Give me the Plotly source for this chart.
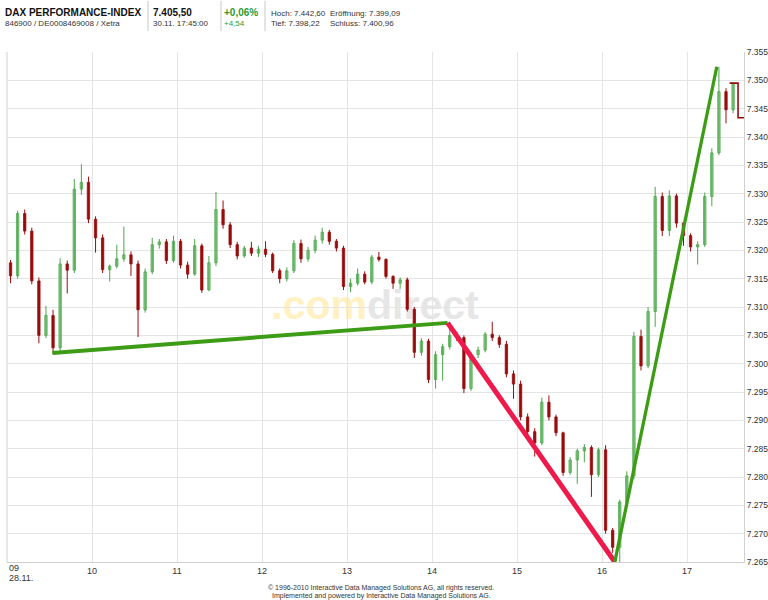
import plotly.graph_objects as go
import pandas as pd

DAY = "2010-11-30"

# 5-minute OHLC bars (index points)
opens = [7317.8, 7315.5, 7326.5, 7323.4, 7314.6, 7305.0, 7308.5, 7302.8, 7317.6, 7316.5,
         7330.8, 7332.0, 7325.5, 7322.2, 7316.6, 7317.2, 7318.5, 7319.2, 7317.6, 7309.5,
         7316.2, 7321.0, 7321.5, 7318.2, 7321.6, 7317.4, 7315.8, 7320.8, 7313.0, 7317.8,
         7327.2, 7324.5, 7321.0, 7319.0, 7320.4, 7319.5, 7320.2, 7319.3, 7316.4, 7315.0,
         7316.4, 7321.2, 7318.5, 7320.0, 7321.8, 7323.2, 7321.6, 7320.4, 7313.6, 7314.2,
         7315.8, 7314.4, 7318.8, 7318.4, 7315.4, 7314.2, 7314.8, 7309.6, 7302.0, 7304.0,
         7297.2, 7301.6, 7303.0, 7305.0, 7304.6, 7295.6, 7301.6, 7302.4, 7305.2, 7304.6,
         7303.4, 7298.2, 7296.4, 7290.6, 7288.0, 7286.0, 7293.2, 7290.6, 7287.8, 7280.8,
         7283.0, 7284.6, 7285.2, 7280.4, 7284.8, 7270.6, 7267.6, 7275.6, 7280.2, 7304.8,
         7299.6, 7309.2, 7329.5, 7323.5, 7329.6, 7324.8, 7322.6, 7320.6, 7321.0, 7329.5,
         7337.2, 7348.0, 7344.8]
highs = [7318.3, 7327.0, 7327.2, 7324.0, 7315.2, 7310.2, 7309.5, 7318.6, 7318.2, 7332.6,
         7335.2, 7333.0, 7326.0, 7322.8, 7317.5, 7321.0, 7324.2, 7319.8, 7318.2, 7316.8,
         7322.2, 7322.0, 7322.0, 7322.6, 7322.0, 7318.0, 7322.0, 7321.2, 7319.0, 7330.3,
         7328.8, 7325.0, 7321.5, 7320.8, 7321.5, 7320.8, 7321.6, 7319.6, 7316.8, 7317.0,
         7321.8, 7321.9, 7320.6, 7322.6, 7324.0, 7323.6, 7322.0, 7320.8, 7315.0, 7316.8,
         7316.3, 7319.2, 7319.7, 7318.6, 7315.6, 7315.2, 7315.2, 7310.0, 7304.5, 7304.4,
         7302.2, 7303.5, 7307.3, 7305.6, 7305.0, 7302.0, 7303.0, 7305.6, 7307.4, 7305.0,
         7304.0, 7298.8, 7297.0, 7291.2, 7288.6, 7294.0, 7294.4, 7291.0, 7288.0, 7283.5,
         7285.0, 7285.8, 7285.6, 7285.2, 7285.6, 7271.0, 7276.0, 7281.0, 7305.6, 7306.0,
         7310.0, 7331.2, 7330.2, 7330.6, 7330.0, 7325.0, 7323.0, 7321.6, 7330.2, 7338.0,
         7352.4, 7348.6, 7349.6]
lows = [7314.2, 7315.0, 7322.8, 7314.0, 7303.6, 7304.5, 7301.9, 7302.2, 7312.4, 7316.0,
        7329.8, 7324.8, 7319.6, 7316.0, 7314.5, 7316.8, 7318.0, 7315.5, 7304.7, 7309.0,
        7315.8, 7320.3, 7317.6, 7317.8, 7316.8, 7315.0, 7315.5, 7312.5, 7312.8, 7317.2,
        7323.8, 7320.4, 7318.4, 7318.7, 7319.0, 7318.8, 7318.8, 7316.0, 7314.2, 7314.5,
        7316.0, 7317.8, 7318.0, 7319.5, 7321.2, 7321.0, 7319.8, 7313.0, 7312.6, 7313.8,
        7314.0, 7314.0, 7318.0, 7315.0, 7313.2, 7313.2, 7309.2, 7301.0, 7301.4, 7296.6,
        7295.6, 7297.0, 7302.5, 7304.0, 7294.8, 7295.2, 7301.0, 7302.0, 7304.0, 7302.8,
        7297.6, 7293.8, 7290.0, 7287.5, 7283.6, 7285.6, 7290.0, 7287.2, 7280.2, 7280.4,
        7278.8, 7282.6, 7276.5, 7280.0, 7270.0, 7266.6, 7265.0, 7275.0, 7279.6, 7298.8,
        7299.2, 7306.5, 7322.5, 7322.5, 7324.0, 7320.8, 7319.8, 7317.5, 7320.6, 7327.8,
        7336.8, 7342.4, 7344.2]
closes = [7315.5, 7326.5, 7323.4, 7314.6, 7305.0, 7308.5, 7302.8, 7317.6, 7316.5, 7330.8,
          7332.0, 7325.5, 7322.2, 7316.6, 7317.2, 7318.5, 7319.2, 7317.6, 7309.5, 7316.2,
          7321.0, 7321.5, 7318.2, 7321.6, 7317.4, 7315.8, 7320.8, 7313.0, 7317.8, 7327.2,
          7324.5, 7321.0, 7319.0, 7320.4, 7319.5, 7320.2, 7319.3, 7316.4, 7315.0, 7316.4,
          7321.2, 7318.5, 7320.0, 7321.8, 7323.2, 7321.6, 7320.4, 7313.6, 7314.2, 7315.8,
          7314.4, 7318.8, 7318.4, 7315.4, 7314.2, 7314.8, 7309.6, 7302.0, 7304.0, 7297.2,
          7301.6, 7303.0, 7305.0, 7304.6, 7295.6, 7301.6, 7302.4, 7305.2, 7304.6, 7303.4,
          7298.2, 7296.4, 7290.6, 7288.0, 7286.0, 7293.2, 7290.6, 7287.8, 7280.8, 7283.0,
          7284.6, 7285.2, 7280.4, 7284.8, 7270.6, 7267.6, 7275.6, 7280.2, 7304.8, 7299.6,
          7309.2, 7329.5, 7323.5, 7329.6, 7324.8, 7322.6, 7320.6, 7321.0, 7329.5, 7337.2,
          7348.0, 7344.8, 7349.5]

# after-close price line (step)
post_times = ["17:30", "17:36", "17:41"]
post_prices = [7349.5, 7343.4, 7343.4]

# drawn trend lines
up1_times = ["09:32", "14:11"]
up1_prices = [7301.9, 7307.2]
down_times = ["14:11", "16:09"]
down_prices = [7307.2, 7265.0]
up2_times = ["16:09", "17:21"]
up2_prices = [7265.0, 7352.4]

hour_ticks = ["09:00", "10:00", "11:00", "12:00", "13:00", "14:00", "15:00", "16:00", "17:00"]
hour_labels = ["", "10", "11", "12", "13", "14", "15", "16", "17"]

y_tick_vals = [7265, 7270, 7275, 7280, 7285, 7290, 7295, 7300, 7305, 7310,
               7315, 7320, 7325, 7330, 7335, 7340, 7345, 7350, 7355]
y_tick_text = ["7.265", "7.270", "7.275", "7.280", "7.285", "7.290", "7.295", "7.300",
               "7.305", "7.310", "7.315", "7.320", "7.325", "7.330", "7.335", "7.340",
               "7.345", "7.350", "7.355"]
y_min, y_max = 7265, 7355
x_start, x_end = "09:00", "17:40:12"

FONT = "Liberation Sans, Arial, sans-serif"
UP_LINE, UP_FILL = "#4aa64a", "#a6dba6"
DN_LINE, DN_FILL = "#990c0c", "#990c0c"


def t(s):
    return f"{DAY} {s}"


bar_times = list(pd.date_range(t("09:02:30"), periods=len(opens), freq="5min"))
BODY_MS = 100000  # body width in milliseconds

fig = go.Figure()
for is_up, lc, fc in ((True, UP_LINE, UP_FILL), (False, DN_LINE, DN_FILL)):
    idx = [i for i in range(len(opens)) if (closes[i] >= opens[i]) == is_up]
    wx, wy = [], []
    for i in idx:
        wx += [bar_times[i], bar_times[i], None]
        wy += [lows[i], highs[i], None]
    fig.add_trace(go.Scatter(x=wx, y=wy, mode="lines", line=dict(color=lc, width=1),
                             showlegend=False, hoverinfo="skip"))
    fig.add_trace(go.Bar(
        x=[bar_times[i] for i in idx],
        base=[min(opens[i], closes[i]) for i in idx],
        y=[max(abs(closes[i] - opens[i]), 0.25) for i in idx],
        width=BODY_MS, marker=dict(color=fc, line=dict(color=lc, width=0.8)),
        showlegend=False, hoverinfo="skip"))

fig.add_trace(go.Scatter(x=[t(s) for s in post_times], y=post_prices, mode="lines",
                         line=dict(color=DN_LINE, width=1.6, shape="hv"),
                         showlegend=False, hoverinfo="skip"))
fig.add_trace(go.Scatter(x=[t(s) for s in up1_times], y=up1_prices, mode="lines",
                         line=dict(color="#3d9c16", width=4), showlegend=False, hoverinfo="skip"))
fig.add_trace(go.Scatter(x=[t(s) for s in down_times], y=down_prices, mode="lines",
                         line=dict(color="#ef1a4c", width=5), showlegend=False, hoverinfo="skip"))
fig.add_trace(go.Scatter(x=[t(s) for s in up2_times], y=up2_prices, mode="lines",
                         line=dict(color="#3d9c16", width=3.3), showlegend=False, hoverinfo="skip"))

PL, PR, PT, PB = 7, 744, 52, 562
W, H = 768, 600


def fx(px):
    return (px - PL) / (PR - PL)


def fy(py):
    return (PB - py) / (PB - PT)


annotations = []


def label(text, px, py, size, color="#222", bold=False, anchor="left"):
    if bold:
        text = f"<b>{text}</b>"
    annotations.append(dict(text=text, x=fx(px), y=fy(py), xref="paper", yref="paper",
                            xanchor=anchor, yanchor="middle", showarrow=False,
                            font=dict(family=FONT, size=size, color=color)))


label("DAX PERFORMANCE-INDEX", 3, 12, 10, "#111", True)
label("846900 / DE0008469008 / Xetra", 3, 24, 8, "#333")
label("7.405,50", 151, 12, 10, "#111", True)
label("30.11. 17:45:00", 151, 24, 8, "#333")
label("+0,06%", 222, 12, 10, "#2f9a2f", True)
label("+4,54", 222, 24, 8, "#2f9a2f")
label("Hoch: 7.442,60", 269, 13, 8, "#333")
label("Eröffnung: 7.399,09", 328, 13, 8, "#333")
label("Tief: 7.398,22", 269, 24, 8, "#333")
label("Schluss: 7.400,96", 328, 24, 8, "#333")
label("09", 7, 568, 9, "#333")
label("28.11.", 7, 578, 9, "#333")
label("© 1996-2010 Interactive Data Managed Solutions AG, all rights reserved.", 381, 588, 7, "#333", anchor="center")
label("Implemented and powered by Interactive Data Managed Solutions AG.", 381, 596, 7, "#333", anchor="center")

shapes = []
for sx in (148, 221, 265):
    shapes.append(dict(type="line", xref="paper", yref="paper", x0=fx(sx), x1=fx(sx),
                       y0=fy(1), y1=fy(31), line=dict(color="#c8c8c8", width=1)))
shapes.append(dict(type="line", xref="paper", yref="paper", x0=0, x1=0, y0=0, y1=1,
                   line=dict(color="#d0d0d0", width=1), layer="below"))
shapes.append(dict(type="rect", xref="paper", yref="paper", x0=fx(250), x1=fx(500),
                   y0=fy(326), y1=fy(276), line=dict(width=0), fillcolor="rgba(0,0,0,0)",
                   layer="below",
                   label=dict(text="<b><span style='color:#fff1c2'>.com</span>"
                                   "<span style='color:#e6e6e6'>direct</span></b>",
                              font=dict(family=FONT, size=41, color="#e6e6e6"),
                              textposition="middle center")))

fig.update_layout(
    width=W, height=H,
    margin=dict(l=PL, r=W - PR, t=PT, b=H - PB, pad=0, autoexpand=False),
    paper_bgcolor="white", plot_bgcolor="white",
    barmode="overlay",
    font=dict(family=FONT, size=9, color="#333"),
    annotations=annotations, shapes=shapes,
    xaxis=dict(type="date", range=[t(x_start), t(x_end)],
               tickvals=[t(s) for s in hour_ticks], ticktext=hour_labels,
               showgrid=True, gridcolor="#e4e4e4", gridwidth=1,
               showline=True, linecolor="#d0d0d0", linewidth=1,
               ticks="", tickfont=dict(size=9, color="#333"),
               zeroline=False, fixedrange=True, automargin=False),
    yaxis=dict(side="right", range=[y_min, y_max], tickvals=y_tick_vals, ticktext=y_tick_text,
               showgrid=True, gridcolor="#e4e4e4", gridwidth=1,
               showline=True, linecolor="#d0d0d0", linewidth=1,
               ticks="", tickfont=dict(size=8.5, color="#333"),
               zeroline=False, fixedrange=True, automargin=False),
)

fig.write_html("out.html", config={"displayModeBar": False, "staticPlot": True},
               post_script="document.body.style.margin='0';"
                           "document.body.style.overflow='hidden';")
